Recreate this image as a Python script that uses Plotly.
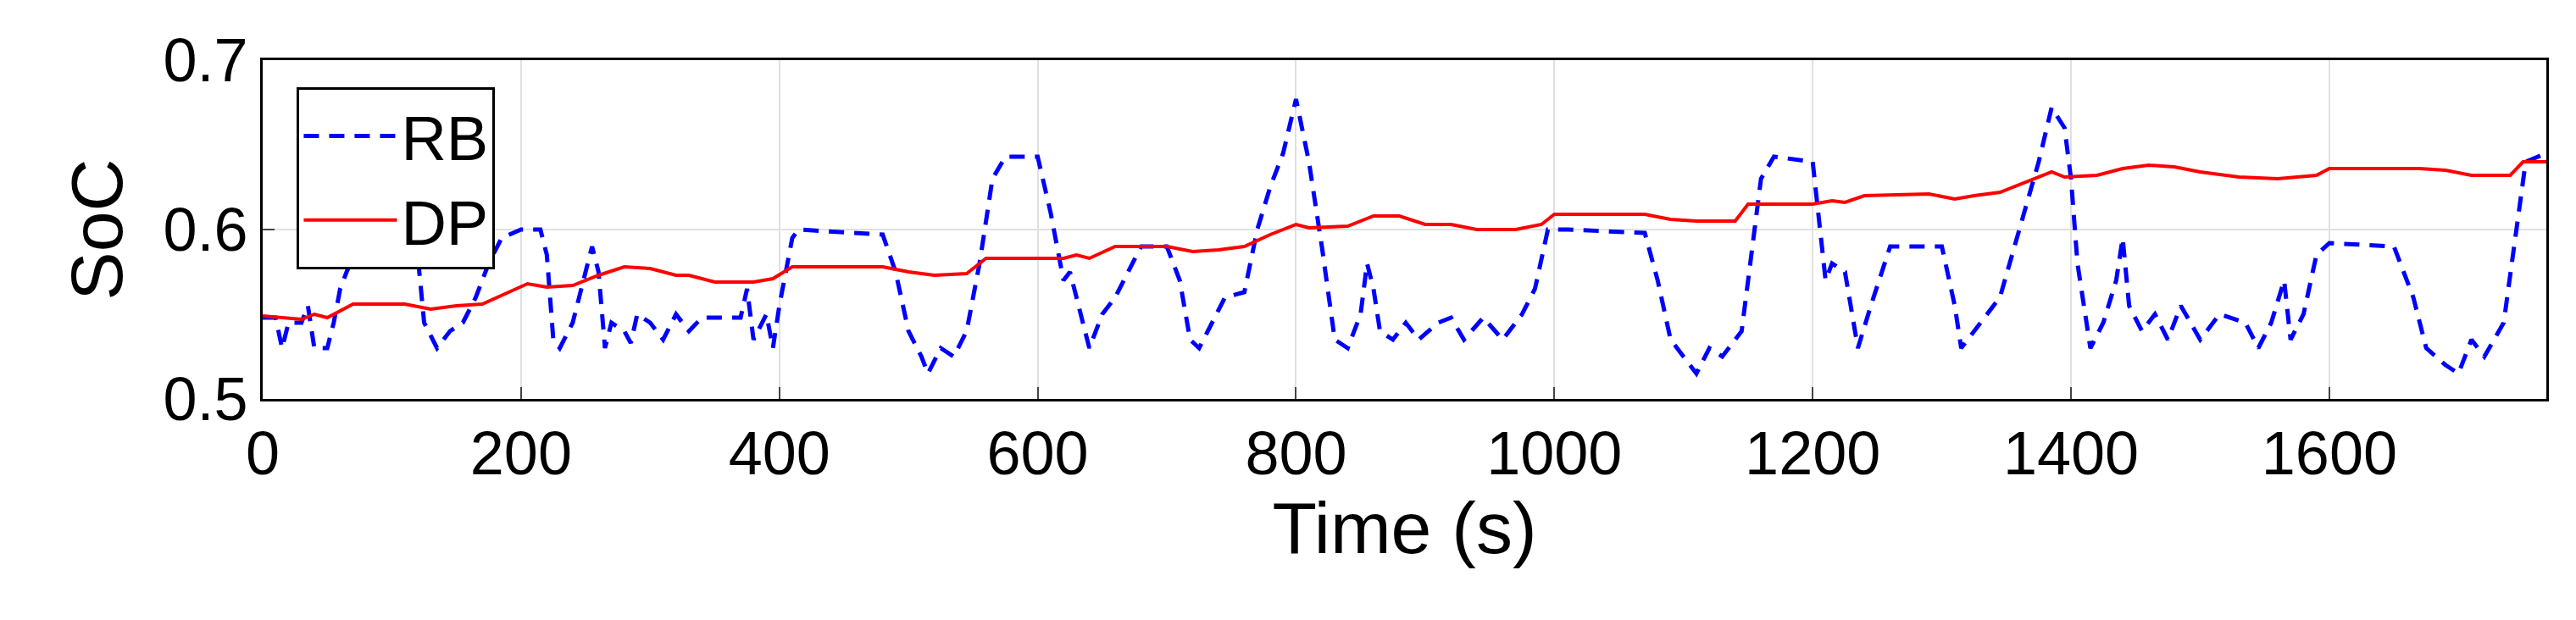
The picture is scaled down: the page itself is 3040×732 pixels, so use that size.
import plotly.graph_objects as go

# RB (rule-based) SoC trace
rb_t = [0, 10, 15, 20, 30, 35, 40, 50, 55, 60, 65, 80, 110, 115, 120, 125, 135, 145, 155, 165,
        175, 185, 200, 215, 220, 225, 230, 240, 255, 260, 265, 270, 280, 285, 290, 300, 310, 320,
        330, 340, 370, 375, 380, 390, 395, 400, 410, 415, 480, 490, 500, 510, 515, 525, 535, 545,
        555, 565, 575, 600, 610, 620, 625, 635, 640, 650, 660, 670, 680, 700, 710, 718, 725, 735,
        745, 760, 770, 780, 790, 800, 810, 820, 830, 840, 850, 855, 860, 865, 875, 885, 895, 910,
        920, 930, 945, 960, 975, 985, 995, 1010, 1070, 1080, 1090, 1100, 1110, 1120, 1130, 1145,
        1150, 1160, 1170, 1200, 1210, 1215, 1225, 1235, 1245, 1260, 1300, 1310, 1315, 1330, 1345,
        1360, 1375, 1385, 1395, 1400, 1405, 1415, 1425, 1435, 1440, 1445, 1455, 1465, 1475, 1485,
        1500, 1515, 1535, 1545, 1555, 1565, 1570, 1580, 1590, 1600, 1650, 1665, 1675, 1690, 1700,
        1710, 1720, 1735, 1745, 1752, 1768]
rb_soc = [0.548, 0.548, 0.53, 0.545, 0.545, 0.555, 0.53, 0.53, 0.545, 0.565, 0.575, 0.6, 0.6,
          0.59, 0.585, 0.545, 0.53, 0.54, 0.545, 0.56, 0.58, 0.595, 0.6, 0.6, 0.585, 0.535, 0.53,
          0.545, 0.59, 0.575, 0.53, 0.545, 0.54, 0.533, 0.55, 0.545, 0.535, 0.55, 0.54, 0.548,
          0.548, 0.565, 0.535, 0.55, 0.53, 0.555, 0.595, 0.6, 0.597, 0.575, 0.54, 0.525, 0.515,
          0.53, 0.525, 0.54, 0.58, 0.63, 0.643, 0.643, 0.61, 0.57, 0.575, 0.545, 0.53, 0.55, 0.56,
          0.575, 0.59, 0.59, 0.57, 0.535, 0.53, 0.545, 0.56, 0.563, 0.6, 0.625, 0.645, 0.677, 0.64,
          0.59, 0.535, 0.53, 0.55, 0.58, 0.565, 0.54, 0.535, 0.545, 0.535, 0.545, 0.548, 0.535,
          0.548, 0.535, 0.55, 0.565, 0.6, 0.6, 0.598, 0.57, 0.535, 0.525, 0.515, 0.53, 0.525, 0.54,
          0.57, 0.63, 0.643, 0.64, 0.57, 0.58, 0.575, 0.53, 0.555, 0.59, 0.59, 0.555, 0.53, 0.545,
          0.56, 0.6, 0.64, 0.672, 0.66, 0.63, 0.58, 0.53, 0.545, 0.57, 0.595, 0.555, 0.54, 0.55,
          0.535, 0.555, 0.535, 0.55, 0.545, 0.53, 0.545, 0.57, 0.535, 0.55, 0.585, 0.592, 0.59,
          0.56, 0.53, 0.52, 0.515, 0.535, 0.525, 0.545, 0.6, 0.64, 0.645]

# DP (dynamic programming) SoC trace
dp_t = [0, 20, 30, 40, 50, 70, 110, 130, 150, 170, 190, 205, 220, 240, 260, 280, 300, 320, 330,
        350, 380, 395, 410, 480, 500, 520, 545, 560, 620, 630, 640, 660, 700, 720, 740, 760, 780,
        800, 810, 840, 860, 880, 900, 920, 940, 970, 990, 1000, 1070, 1090, 1110, 1140, 1150,
        1200, 1215, 1225, 1240, 1290, 1310, 1325, 1345, 1365, 1385, 1395, 1420, 1440, 1460, 1480,
        1500, 1530, 1560, 1590, 1600, 1670, 1690, 1710, 1740, 1750, 1768]
dp_soc = [0.549, 0.548, 0.547, 0.55, 0.548, 0.556, 0.556, 0.553, 0.555, 0.556, 0.563, 0.568,
          0.566, 0.567, 0.573, 0.578, 0.577, 0.573, 0.573, 0.569, 0.569, 0.571, 0.578, 0.578,
          0.575, 0.573, 0.574, 0.583, 0.583, 0.585, 0.583, 0.59, 0.59, 0.587, 0.588, 0.59, 0.597,
          0.603, 0.601, 0.602, 0.608, 0.608, 0.603, 0.603, 0.6, 0.6, 0.603, 0.609, 0.609, 0.606,
          0.605, 0.605, 0.615, 0.615, 0.617, 0.616, 0.62, 0.621, 0.618, 0.62, 0.622, 0.628, 0.634,
          0.631, 0.632, 0.636, 0.638, 0.637, 0.634, 0.631, 0.63, 0.632, 0.636, 0.636, 0.635,
          0.632, 0.632, 0.64, 0.64]

x_ticks = [0, 200, 400, 600, 800, 1000, 1200, 1400, 1600]
y_ticks = [0.5, 0.6, 0.7]

fig = go.Figure()
fig.add_trace(go.Scatter(x=rb_t, y=rb_soc, mode='lines', name='RB',
                         line=dict(color='#0000ff', width=5, dash='18px,12px')))
fig.add_trace(go.Scatter(x=dp_t, y=dp_soc, mode='lines', name='DP',
                         line=dict(color='#ff0000', width=4)))

axis_font = dict(family='Liberation Sans, Arial', size=72, color='black')
fig.update_layout(
    width=3040, height=732,
    margin=dict(l=302, r=43, t=63, b=269),
    paper_bgcolor='white', plot_bgcolor='white',
    font=axis_font,
    legend=dict(x=0.015, y=0.92, xanchor='left', yanchor='top',
                bgcolor='white', bordercolor='black', borderwidth=3,
                font=dict(size=74), itemwidth=110, tracegroupgap=20),
    xaxis=dict(range=[0, 1768], tickvals=x_ticks, showgrid=True, gridcolor='#e0e0e0',
               gridwidth=2, showline=True, mirror=True, linecolor='black', linewidth=3,
               ticks='inside', ticklen=14, tickwidth=2, zeroline=False,
               title=dict(text='Time (s)', standoff=12)),
    yaxis=dict(range=[0.5, 0.7], tickvals=y_ticks, tickformat='.1f', showgrid=True,
               gridcolor='#e0e0e0', gridwidth=2, showline=True, mirror=True,
               linecolor='black', linewidth=3, ticks='inside', ticklen=14, tickwidth=2,
               zeroline=False, title=dict(text='SoC', standoff=20)),
)

fig.write_html("out.html")
